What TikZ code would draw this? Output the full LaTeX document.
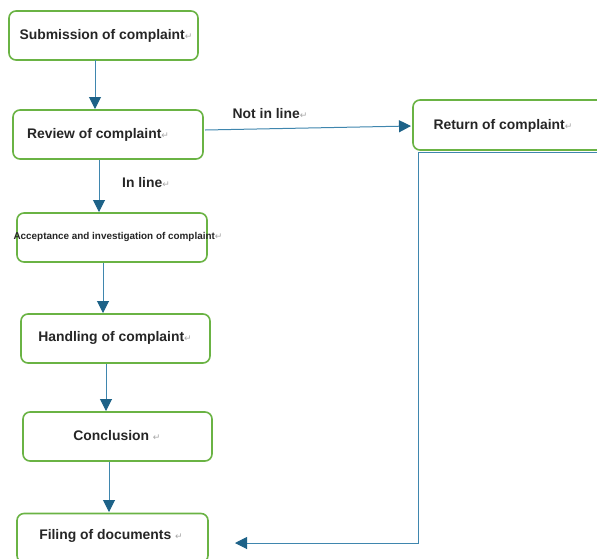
\documentclass[tikz,border=0pt]{standalone}
\usepackage{fontspec}
\setmainfont{Liberation Sans}
\newfontfamily\symfont{DejaVu Sans}
\usetikzlibrary{arrows.meta,calc}
\definecolor{boxgreen}{HTML}{6AB344}
\definecolor{arrowblue}{HTML}{1D6288}
\definecolor{lineblue}{HTML}{3F86AE}
\newcommand{\pmark}{{\symfont\mdseries\color{black!35}\fontsize{9}{9}\selectfont ↵}}
\tikzset{
  box/.style={draw=boxgreen, line width=1.6pt, rounded corners=7pt, fill=white,
    minimum height=49pt, inner sep=0pt},
  txt/.style={font=\fontsize{13.9}{16}\selectfont\bfseries, text=black!85, inner sep=0pt},
  small/.style={font=\fontsize{9.9}{11}\selectfont\bfseries, text=black!85, inner sep=0pt},
  flow/.style={draw=lineblue, line width=1pt, -{Triangle[width=12pt,length=12pt,color=arrowblue]}},
}
\begin{document}
\begin{tikzpicture}[x=1pt,y=-1pt]
\useasboundingbox (0,0) rectangle (597,558);
\clip (0,0) rectangle (597,558);
% boxes
\node[box, minimum width=189pt] (sub) at (103.5,35.5) {};
\node[box, minimum width=190pt] (rev) at (108,134.5) {};
\node[box, minimum width=210pt, minimum height=50pt] (ret) at (518,125) {};
\node[box, minimum width=190pt] (acc) at (112,237.5) {};
\node[box, minimum width=189pt] (han) at (115.5,338.5) {};
\node[box, minimum width=189pt] (con) at (117.5,436.5) {};
\node[box, minimum width=191pt] (fil) at (112.5,538) {};
% texts
\node[txt] (subt) at (106,36) {Submission of complaint\pmark};
\node[txt] (revt) at (98,135) {Review of complaint\pmark};
\node[txt] (rett) at (503,126) {Return of complaint\pmark};
\node[small] (acct) at (118,237) {Acceptance and investigation of complaint\pmark};
\node[txt] (hant) at (115,338) {Handling of complaint\pmark};
\node[txt] (cont) at (117,436) {Conclusion\ \pmark};
\node[txt] (filt) at (111,536) {Filing of documents\ \pmark};
% labels
\node[txt] (nil) at (270,114) {Not in line\pmark};
\node[txt] (inl) at (146,183) {In line\pmark};
% connectors
\draw[flow] (95,60) -- (95,109);
\draw[flow] (99,160) -- (99,212);
\draw[flow] (103,263) -- (103,313);
\draw[flow] (106,364) -- (106,411);
\draw[flow] (109,462) -- (109,512);
\coordinate (revout) at (205,130);
\coordinate (retin) at (411,126);
\draw[flow] (revout) -- (retin);
\coordinate (c1) at (600,152);
\coordinate (c2) at (418,152);
\coordinate (c3) at (418,543);
\coordinate (c4) at (235,543);
\draw[flow] (c1) -- (c2) -- (c3) -- (c4);
\end{tikzpicture}
\end{document}
